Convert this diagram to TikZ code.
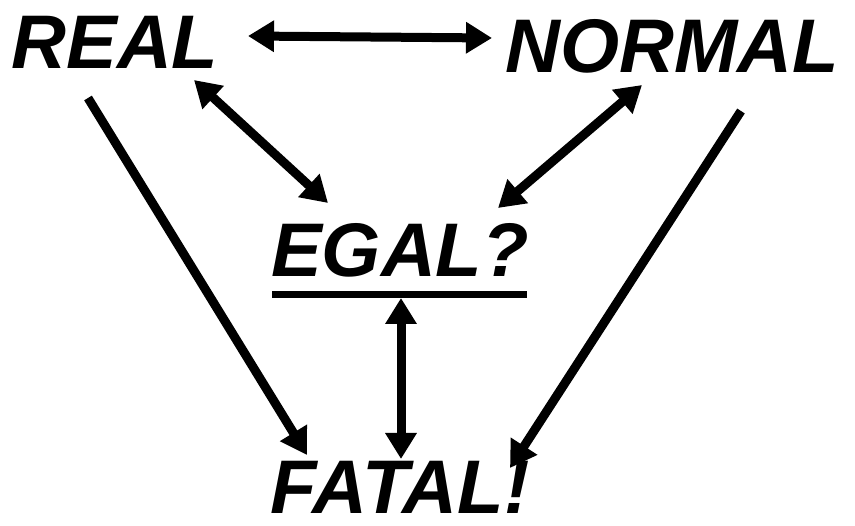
\documentclass[tikz,border=0pt]{standalone}
\usepackage{fontspec}
\setmainfont{Liberation Sans}
\usetikzlibrary{arrows.meta}
\begin{document}
\begin{tikzpicture}[x=1pt,y=-1pt,
  word/.style={inner sep=0pt, font=\fontsize{76}{76}\selectfont\bfseries\itshape},
  conn/.style={line width=9pt, -{Triangle[width=30pt,length=26pt]}},
  biconn/.style={line width=9pt, {Triangle[width=30pt,length=26pt]}-{Triangle[width=30pt,length=26pt]}}]
\fill[white] (0,0) rectangle (855,526);
\useasboundingbox (0,0) rectangle (855,526);
\node[word] (real) at (115,42) {REAL};
\node[word] (normal) at (672,46) {NORMAL};
\node[word] (egal) at (400,250) {EGAL?};
\node[word] (fatal) at (400,487) {FATAL!};
\draw[line width=7pt] (272,295) -- (527,295);
% connector endpoints
\coordinate (rn1) at (248,36);
\coordinate (rn2) at (492,38);
\coordinate (re1) at (194,80);
\coordinate (re2) at (328,203);
\coordinate (ne1) at (642,85);
\coordinate (ne2) at (498,208);
\coordinate (rf1) at (88,98);
\coordinate (rf2) at (307,455);
\coordinate (nf1) at (741,111);
\coordinate (nf2) at (510,468);
\coordinate (ef1) at (401,298);
\coordinate (ef2) at (401,459);
\draw[biconn] (rn1) -- (rn2);
\draw[biconn] (re1) -- (re2);
\draw[biconn] (ne1) -- (ne2);
\draw[conn] (rf1) -- (rf2);
\draw[conn] (nf1) -- (nf2);
\draw[biconn] (ef1) -- (ef2);
\end{tikzpicture}
\end{document}
